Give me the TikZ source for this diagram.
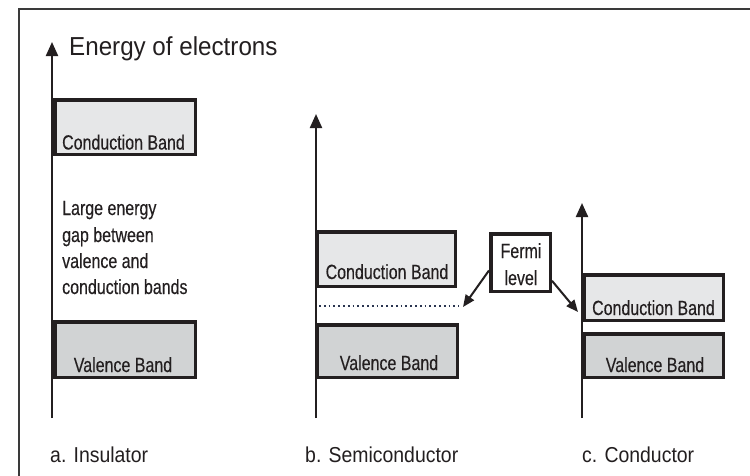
\documentclass[tikz,border=0pt]{standalone}
\usepackage{fontspec}
\setmainfont{Liberation Sans}
\newfontfamily\narrowfont[FakeStretch=0.78,FakeBold=0.3]{Liberation Sans}
\newfontfamily\capfont[FakeStretch=0.9]{Liberation Sans}
\newfontfamily\titlefont[FakeStretch=0.93]{Liberation Sans}
\usetikzlibrary{arrows.meta,calc}
\definecolor{ink}{HTML}{231F20}
\definecolor{cbfill}{HTML}{E6E7E8}
\definecolor{vbfill}{HTML}{D1D3D4}
\definecolor{framecol}{HTML}{3A3A3A}
\definecolor{dotcol}{HTML}{2A3550}
\tikzset{
  band/.style={draw=ink, line width=3.5pt, rectangle, inner sep=0pt},
  cband/.style={band, fill=cbfill},
  vband/.style={band, fill=vbfill},
  bandtext/.style={text=ink, inner sep=0pt, anchor=base, font=\narrowfont\fontsize{20.5}{24}\selectfont},
  gaptext/.style={text=ink, inner sep=0pt, anchor=base west, font=\narrowfont\fontsize{20.5}{24}\selectfont},
  captext/.style={text=ink, inner sep=0pt, anchor=base west, font=\capfont\fontsize{21.6}{25}\selectfont},
  axis/.style={draw=ink, line width=2.2pt, -{Triangle[length=14pt,width=12pt]}},
  ptr/.style={draw=ink, line width=2pt, -{Triangle[length=12pt,width=10pt]}},
  fermibox/.style={draw=ink, line width=3.5pt, fill=white, rectangle, inner sep=0pt},
}
\begin{document}
\begin{tikzpicture}[x=1pt,y=-1pt]
\useasboundingbox (0,0) rectangle (750,475);
\fill[white] (0,0) rectangle (750,475);
% frame
\coordinate (fbl) at (19,480);
\coordinate (ftl) at (19,9);
\coordinate (ftr) at (760,9);
\draw[framecol, line width=2pt] (fbl) -- (ftl) -- (ftr);

% title
\node[text=ink, inner sep=0pt, anchor=base west, font=\titlefont\fontsize{26}{30}\selectfont] (title) at (69,55) {Energy of electrons};

% axes
\coordinate (ia0) at (52,418); \coordinate (ia1) at (52,42);
\coordinate (sa0) at (316,418); \coordinate (sa1) at (316,114);
\coordinate (ca0) at (582,418); \coordinate (ca1) at (582,203);
\draw[axis] (ia0) -- (ia1);
\draw[axis] (sa0) -- (sa1);
\draw[axis] (ca0) -- (ca1);

% insulator
\node[cband, minimum width=140.5pt, minimum height=54.5pt] (icb) at (125,127) {};
\node[vband, minimum width=140.5pt, minimum height=55.5pt] (ivb) at (125,349.5) {};
\node[bandtext] (icbt) at (123.5,149.5) {Conduction Band};
\node[bandtext] (ivbt) at (123,372) {Valence Band};
\node[gaptext] (gap1) at (62,215) {Large energy};
\node[gaptext] (gap2) at (62,242) {gap between};
\node[gaptext] (gap3) at (62,268) {valence and};
\node[gaptext] (gap4) at (62,294) {conduction bands};

% semiconductor
\node[cband, minimum width=138.5pt, minimum height=54.5pt] (scb) at (386,259) {};
\node[vband, minimum width=140.5pt, minimum height=52.5pt] (svb) at (387,351) {};
\node[bandtext] (scbt) at (387,279) {Conduction Band};
\node[bandtext] (svbt) at (389,370) {Valence Band};
\coordinate (dot0) at (319,306);
\coordinate (dot1) at (459,306);
\draw[dotcol, line width=1.8pt, dash pattern=on 1.8pt off 3pt] (dot0) -- (dot1);

% conductor
\node[cband, minimum width=139.5pt, minimum height=45.5pt] (ccb) at (653.5,297.5) {};
\node[vband, minimum width=139.5pt, minimum height=43.5pt] (cvb) at (653.5,355.5) {};
\node[bandtext] (ccbt) at (653.5,315) {Conduction Band};
\node[bandtext] (cvbt) at (655,372) {Valence Band};

% Fermi level
\node[fermibox, minimum width=59.5pt, minimum height=57.5pt] (fermi) at (520.5,262.5) {};
\node[bandtext] (fermit1) at (521,258) {Fermi};
\node[bandtext] (fermit2) at (521,285) {level};
\coordinate (fs) at (463,307);
\coordinate (fc) at (578,312);
\draw[ptr] ($(fermi.south west)!0.37!(fermi.north west)$) -- (fs);
\draw[ptr] ($(fermi.south east)!0.2!(fermi.north east)$) -- (fc);

% captions
\node[captext] (capa) at (50,462) {a. Insulator};
\node[captext] (capb) at (305,462) {b. Semiconductor};
\node[captext] (capc) at (582,462) {c. Conductor};
\end{tikzpicture}
\end{document}
